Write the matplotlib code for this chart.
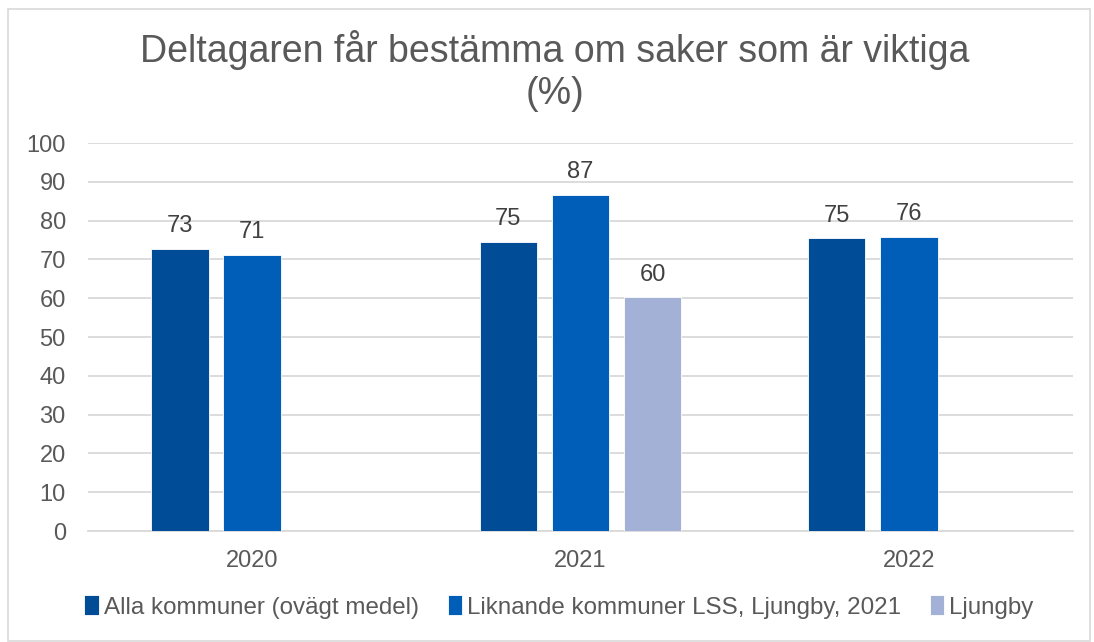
import numpy as np
import matplotlib.pyplot as plt
from matplotlib.patches import Rectangle

plt.rcParams['font.family'] = ['Liberation Sans', 'DejaVu Sans']

# data
years = ["2020", "2021", "2022"]
series_names = ["Alla kommuner (ovägt medel)",
                "Liknande kommuner LSS, Ljungby, 2021",
                "Ljungby"]
alla = [72.8, 74.6, 75.4]
liknande = [71.1, 86.6, 75.9]
ljungby = [np.nan, 60.2, np.nan]
colors = ["#004C97", "#005EB8", "#A3B1D6"]

fig = plt.figure(figsize=(10.94, 6.42), dpi=100)
ax = fig.add_axes([88/1094, 1 - 531/642, (1073 - 88)/1094, (531 - 143)/642])

x = np.arange(len(years))
width = 0.175
step = 0.22
for j, (vals, name, col) in enumerate(zip([alla, liknande, ljungby], series_names, colors)):
    pos = x + (j - 1)*step
    ax.bar(pos, vals, width, color=col, label=name, edgecolor="white", linewidth=0.6, zorder=3)
    for p, v in zip(pos, vals):
        if not np.isnan(v):
            ax.text(p, v + 3.0, f"{v:.0f}", ha="center", va="bottom", fontsize=17, color="#404040")

ax.set_xlim(-0.5, 2.5)
ax.set_ylim(0, 100)
ax.set_yticks(np.arange(0, 101, 10))
ax.set_xticks(x)
ax.set_xticklabels(years)
ax.grid(axis="y", color="#D9D9D9", linewidth=1.3, zorder=0)
for s in ["top", "right", "left"]:
    ax.spines[s].set_visible(False)
ax.spines["bottom"].set_color("#D9D9D9")
ax.spines["bottom"].set_linewidth(1.3)
ax.tick_params(axis="both", length=0, labelsize=17, labelcolor="#595959")
ax.tick_params(axis="x", pad=14)
ax.tick_params(axis="y", pad=16)

fig.text(555/1094, 1 - 71/642, "Deltagaren får bestämma om saker som är viktiga\n(%)",
         ha="center", va="center", fontsize=27, color="#595959", linespacing=1.2)

leg = fig.legend(loc="center", bbox_to_anchor=(559/1094, 1 - 607/642), ncol=3, frameon=False,
                 fontsize=17.4, handlelength=0.6, handleheight=0.9, handletextpad=0.2,
                 columnspacing=1.2)
for t in leg.get_texts():
    t.set_color("#595959")

fig.patches.append(Rectangle((8/1094, 0.002), (1090 - 8)/1094, 1 - 9/642 - 0.002,
                             transform=fig.transFigure, fill=False,
                             edgecolor="#D9D9D9", linewidth=1.2))

fig.savefig("out.png", dpi=100)
